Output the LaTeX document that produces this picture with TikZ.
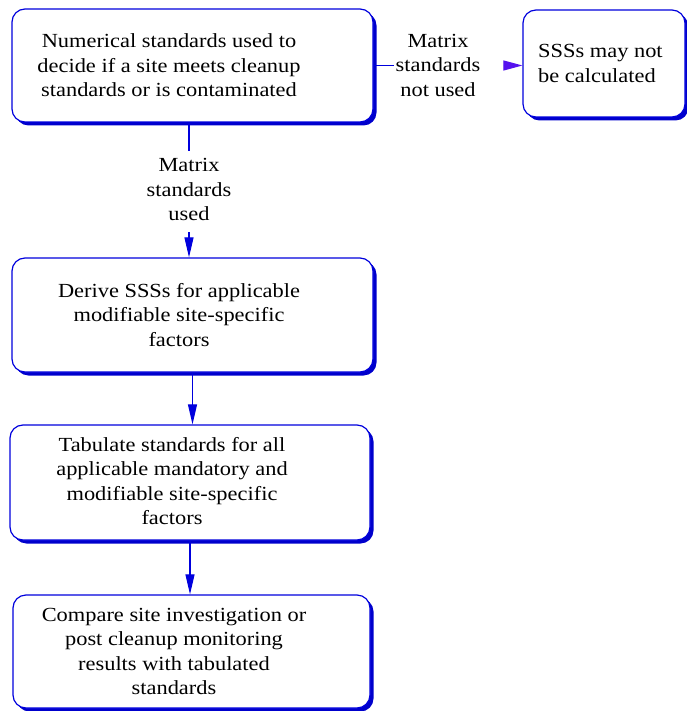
\documentclass[tikz,border=0pt]{standalone}
\usepackage{fontspec}
\setmainfont{Liberation Serif}
\usetikzlibrary{shadows,arrows.meta}
\definecolor{lineblue}{HTML}{0000DD}
\definecolor{shadblue}{HTML}{0000CC}
\definecolor{arrviolet}{HTML}{5511EE}
\newcommand{\wtxt}[2][c]{\scalebox{1.12}[1]{\begin{tabular}{@{}#1@{}}#2\end{tabular}}}
\begin{document}
\begin{tikzpicture}[x=1pt,y=-1pt,
  box/.style={draw=lineblue, fill=white, line width=1.2pt, rounded corners=13pt,
    drop shadow={shadow xshift=3.5pt, shadow yshift=-3.5pt, fill=shadblue, opacity=1},
    inner sep=0pt},
  txt/.style={inner sep=0pt, font=\fontsize{20}{24.5}\selectfont},
  lab/.style={inner sep=4pt, font=\fontsize{20}{24.5}\selectfont},
  conn/.style={draw=lineblue, line width=1.1pt},
  varrow/.style={conn, -{Triangle[length=20pt,width=9pt]}},
  harrow/.style={draw=arrviolet, line width=1.1pt, -{Triangle[length=19pt,width=10pt]}}
]
\useasboundingbox (0,0) rectangle (686,711);

\node[box, minimum width=361pt, minimum height=113pt] (b1) at (192.5,65.5) {};
\node[box, minimum width=162pt, minimum height=107pt] (b2) at (604,63.5) {};
\node[box, minimum width=361pt, minimum height=114pt] (b3) at (192.5,315) {};
\node[box, minimum width=360pt, minimum height=115pt] (b4) at (190,482.5) {};
\node[box, minimum width=357pt, minimum height=113pt] (b5) at (191.5,651.5) {};

\node[txt] (t1) at (169,67.5) {\wtxt{Numerical standards used to\\decide if a site meets cleanup\\standards or is contaminated}};
\node[txt, anchor=west] (t2) at (538,65) {\wtxt[l]{SSSs may not\\be calculated}};
\node[txt] (t3) at (179,317) {\wtxt{Derive SSSs for applicable\\modifiable site-specific\\factors}};
\node[txt] (t4) at (172,483) {\wtxt{Tabulate standards for all\\applicable mandatory and\\modifiable site-specific\\factors}};
\node[txt] (t5) at (174,653) {\wtxt{Compare site investigation or\\post cleanup monitoring\\results with tabulated\\standards}};

\node[lab] (l1) at (189,191.5) {\wtxt{Matrix\\standards\\used}};
\node[lab, inner xsep=2pt] (l2) at (438,67) {\wtxt{Matrix\\standards\\not used}};

\draw[conn] (b1.south -| l1) -- (l1.north);
\draw[varrow] (l1.south) -- (b3.north -| l1);
\draw[varrow] (b3.south) -- (b4.north -| b3.south);
\draw[varrow] (b4.south) -- (b5.north -| b4.south);
\draw[conn] (b1.east) -- (l2.west |- b1.east);
\draw[harrow] ([xshift=21pt]l2.east |- b1.east) -- (b2.west |- b1.east);
\end{tikzpicture}
\end{document}
